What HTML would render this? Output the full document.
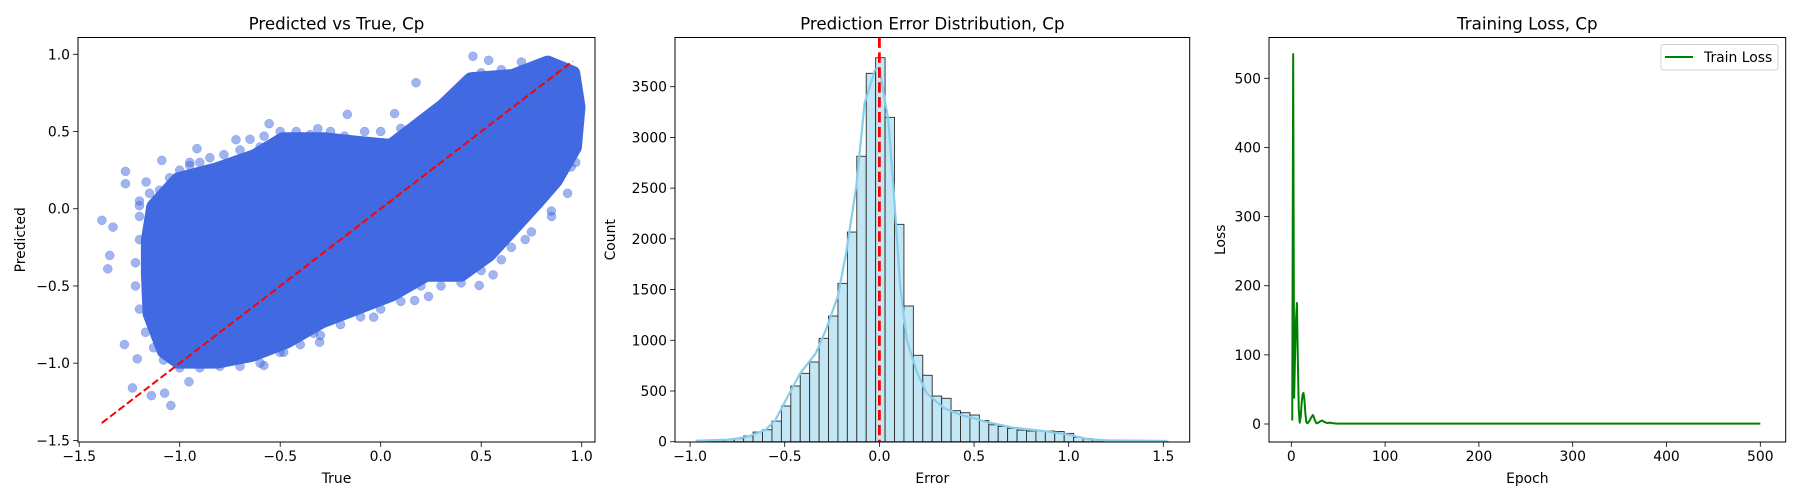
<!DOCTYPE html>
<html><head><meta charset="utf-8"><style>
html,body{margin:0;padding:0;background:#fff;}
svg{display:block;font-family:"DejaVu Sans","Liberation Sans",sans-serif;}
</style></head><body>
<svg id="fig" width="1800" height="500" viewBox="0 0 1800 500" xmlns="http://www.w3.org/2000/svg"></svg>
<script>
// ---------- Panel 1 data (Predicted vs True) ----------
const cloudTrue = [-1.127,-1.006,-0.816,-0.625,-0.486,-0.278,-0.122,0.051,0.138,0.311,0.450,0.658,0.831,0.953,0.979,0.961,0.866,0.779,0.658,0.537,0.398,0.225,0.051,-0.122,-0.295,-0.469,-0.642,-0.816,-1.006,-1.075,-1.145,-1.153,-1.153];
const cloudPred = [0.011,0.184,0.248,0.335,0.443,0.443,0.421,0.400,0.486,0.659,0.832,0.853,0.940,0.875,0.659,0.400,0.184,0.054,-0.119,-0.291,-0.421,-0.421,-0.551,-0.637,-0.724,-0.853,-0.940,-0.983,-0.983,-0.918,-0.680,-0.421,-0.205];
const outTrue = [-1.387,-1.358,-1.348,-1.332,-1.27,-1.27,-1.167,-1.089,-1.275,-1.235,-1.141,-1.044,-1.075,-0.914,-0.72,-0.555,-0.313,-0.166,0.069,0.176,0.459,0.537,-0.581,-0.483,-0.304,-0.79,0.238,0.490,0.559,0.719,0.849,0.947,-0.035,0.169,-1.211,-0.954,-0.334,-1.2,-1.1,-0.95,-0.6,0.3,0.7,
 -1.2,-1.15,-1.1,-1.05,-1.0,-0.95,-0.9,-0.85,-0.78,-0.7,-0.65,-0.58,-0.5,-0.42,-0.35,-0.25,-0.18,-0.08,0.0,0.1,0.2,0.28,0.35,0.42,0.5,0.6,0.7,0.8,0.9,
 0.97,0.98,0.97,0.93,
 0.85,0.75,0.65,0.6,0.5,0.4,0.3,0.2,0.1,0.0,-0.1,-0.2,-0.3,-0.4,-0.5,-0.6,-0.7,-0.8,-0.9,-1.0,-1.08,-1.13,-1.17,-1.2,-1.22,-1.22,-1.2,-1.2];
const outPred = [-0.075,-0.389,-0.302,-0.119,0.242,0.162,0.173,0.313,-0.879,-1.16,-1.21,-1.274,-1.194,0.389,0.447,0.551,0.518,0.611,0.616,0.816,0.987,0.961,-1.015,-0.929,-0.864,-1.0,-0.568,-0.497,-0.428,-0.199,-0.015,0.27,-0.702,-0.594,-0.972,-1.12,-0.806,0.02,0.08,0.3,0.4,0.6,0.9,
 0.05,0.1,0.12,0.2,0.25,0.28,0.3,0.33,0.35,0.38,0.45,0.47,0.5,0.5,0.48,0.5,0.47,0.5,0.5,0.52,0.57,0.62,0.7,0.8,0.88,0.9,0.95,0.93,0.9,
 0.8,0.5,0.3,0.1,
 -0.05,-0.15,-0.25,-0.33,-0.4,-0.48,-0.5,-0.5,-0.6,-0.65,-0.7,-0.75,-0.82,-0.88,-0.93,-1.0,-1.02,-1.02,-1.03,-1.03,-0.98,-0.9,-0.8,-0.65,-0.5,-0.35,-0.2,-0.05];
const diagLine = [-1.388, 0.955];
const p1XTicks = [-1.5,-1.0,-0.5,0.0,0.5,1.0];
const p1YTicks = [-1.5,-1.0,-0.5,0.0,0.5,1.0];

// ---------- Panel 2 data (Error histogram) ----------
const binStart = -0.966, binWidth = 0.0498;
const binCounts = [7,10,13,20,30,56,95,118,203,352,549,674,786,1019,1239,1561,2067,2814,3632,3786,3198,2143,1338,852,655,450,428,306,286,263,209,167,150,131,114,105,105,105,100,82,43,30,20,10,5,3,3,2,2,2];
const kdeX = [-0.97,-0.8,-0.7,-0.6,-0.55,-0.42,-0.336,-0.283,-0.22,-0.176,-0.122,-0.078,-0.024,0.0,0.047,0.074,0.11,0.145,0.2,0.25,0.34,0.43,0.5,0.555,0.7,0.9,1.0,1.1,1.2,1.52];
const kdeY = [10,20,46,118,213,670,872,1100,1432,1860,2517,3338,3665,3683,3170,2517,1531,1003,674,477,332,263,232,200,140,98,69,26,13,7];
const p2XTicks = [-1.0,-0.5,0.0,0.5,1.0,1.5];
const p2YTicks = [0,500,1000,1500,2000,2500,3000,3500];

// ---------- Panel 3 data (Training loss) ----------
const lossHead = [5,535,38,100,150,175,90,20,2,10,30,42,45,35,15,3,1,2,4,6,9,11,13,10,6,3,1,1.5,2,3,4,4.5,5,4,3,2.5,2,1.5,1.5,1.8,2,1.8,1.5,1.2,1,0.9,0.8,0.7,0.6,0.6];
const lossTailValue = 0.5, totalEpochs = 500;
const p3XTicks = [0,100,200,300,400,500];
const p3YTicks = [0,100,200,300,400,500];

const NS = 'http://www.w3.org/2000/svg';
const fig = document.getElementById('fig');
function mk(tag, attrs, parent){const e=document.createElementNS(NS,tag);for(const k in attrs)e.setAttribute(k,attrs[k]);(parent||fig).appendChild(e);return e;}
function fmt(v,d){let s=v.toFixed(d);return s.replace('-','\u2212');}
function scale(d0,d1,r0,r1){return v=>r0+(v-d0)/(d1-d0)*(r1-r0);}

function axesFrame(g,L,T,R,B,xs,ys,xt,yt,xd,yd,title,xl,yl,ylx){
  const fr=mk('rect',{x:L,y:T,width:R-L,height:B-T,fill:'none',stroke:'#000','stroke-width':1},g);
  
  xt.forEach(v=>{const x=xs(v);
    const t=mk('line',{x1:x,x2:x,y1:B,y2:B+4.9,stroke:'#000','stroke-width':0.8},g);
    
    const tx=mk('text',{x:x,y:B+19,'font-size':13.9,'text-anchor':'middle',fill:'#000'},g);tx.textContent=fmt(v,xd);
    });
  yt.forEach(v=>{const y=ys(v);
    const t=mk('line',{x1:L-4.9,x2:L,y1:y,y2:y,stroke:'#000','stroke-width':0.8},g);
    
    const tx=mk('text',{x:L-8,y:y+5,'font-size':13.9,'text-anchor':'end',fill:'#000'},g);tx.textContent=fmt(v,yd);
    });
  const tt=mk('text',{x:(L+R)/2,y:T-8,'font-size':16.7,'text-anchor':'middle',fill:'#000'},g);tt.textContent=title;
  
  const xa=mk('text',{x:(L+R)/2,y:B+41,'font-size':13.9,'text-anchor':'middle',fill:'#000'},g);xa.textContent=xl;
  
  const cy=(T+B)/2;
  const ya=mk('text',{x:ylx,y:cy,'font-size':13.9,'text-anchor':'middle',fill:'#000',transform:`rotate(-90 ${ylx} ${cy})`},g);ya.textContent=yl;
  
}

// ===== Panel 1 =====
(function(){
  const L=78,T=37.5,R=595,B=442;
  const g=mk('g',{});
  const xs=scale(-1.5,1.0,79.2,581.7), ys=scale(-1.5,1.0,440.4,54.3);
  const pts=cloudTrue.map((v,i)=>xs(v).toFixed(1)+','+ys(cloudPred[i]).toFixed(1)).join(' ');
  const poly=mk('polygon',{points:pts,fill:'#4169e1',stroke:'#4169e1','stroke-width':16,'stroke-linejoin':'round'},g);
  
  outTrue.forEach((v,i)=>{const c=mk('circle',{cx:xs(v),cy:ys(outPred[i]),r:4.5,fill:'#4169e1','fill-opacity':0.5,stroke:'#4169e1','stroke-opacity':0.5,'stroke-width':0.5},g);
    });
  const dl=mk('line',{x1:xs(diagLine[0]),y1:ys(diagLine[0]),x2:xs(diagLine[1]),y2:ys(diagLine[1]),stroke:'#ff0000','stroke-width':2,'stroke-dasharray':'7.4,3.2'},g);
  
  axesFrame(g,L,T,R,B,xs,ys,p1XTicks,p1YTicks,1,1,'Predicted vs True, Cp','True','Predicted',25);
})();

// ===== Panel 2 =====
(function(){
  const L=675,T=37.5,R=1189.7,B=442;
  const g=mk('g',{});
  const xs=scale(0,1,879.4,1068.7), ys=scale(0,3500,441.7,86.7);
  binCounts.forEach((c,i)=>{const x0=xs(binStart+i*binWidth),x1=xs(binStart+(i+1)*binWidth);
    const r=mk('rect',{x:x0,y:ys(c),width:x1-x0,height:ys(0)-ys(c),fill:'#c3e6f4',stroke:'#2b2b2b','stroke-width':0.9},g);
    });
  const d=kdeX.map((v,i)=>(i?'L':'M')+xs(v).toFixed(1)+','+ys(kdeY[i]).toFixed(1)).join(' ');
  const k=mk('path',{d:d,fill:'none',stroke:'#87ceeb','stroke-width':2.2,'stroke-linejoin':'round'},g);
  
  const vl=mk('line',{x1:xs(0),x2:xs(0),y1:T,y2:B,stroke:'#ff0000','stroke-width':2.8,'stroke-dasharray':'10.4,4.5'},g);
  
  axesFrame(g,L,T,R,B,xs,ys,p2XTicks,p2YTicks,1,0,'Prediction Error Distribution, Cp','Error','Count',615);
})();

// ===== Panel 3 =====
(function(){
  const L=1269,T=37.5,R=1785.7,B=442;
  const g=mk('g',{});
  const xs=scale(0,500,1291.3,1760.3), ys=scale(0,500,424,78.3);
  const loss=lossHead.slice();while(loss.length<totalEpochs)loss.push(lossTailValue);
  const d=loss.map((v,i)=>(i?'L':'M')+xs(i+1).toFixed(2)+','+ys(v).toFixed(2)).join(' ');
  const p=mk('path',{d:d,fill:'none',stroke:'#008000','stroke-width':2,'stroke-linejoin':'round'},g);
  
  axesFrame(g,L,T,R,B,xs,ys,p3XTicks,p3YTicks,0,0,'Training Loss, Cp','Epoch','Loss',1225);
  const lg=mk('g',{},g);
  mk('rect',{x:1661,y:44.5,width:117,height:25.5,rx:2.5,fill:'#fff','fill-opacity':0.8,stroke:'#d0d0d0','stroke-width':1},lg);
  const ll=mk('line',{x1:1665,x2:1693,y1:57,y2:57,stroke:'#008000','stroke-width':2},lg);
  
  const lt=mk('text',{x:1704,y:62,'font-size':13.9,fill:'#000'},lg);lt.textContent='Train Loss';
  
})();
</script>
</body></html>
